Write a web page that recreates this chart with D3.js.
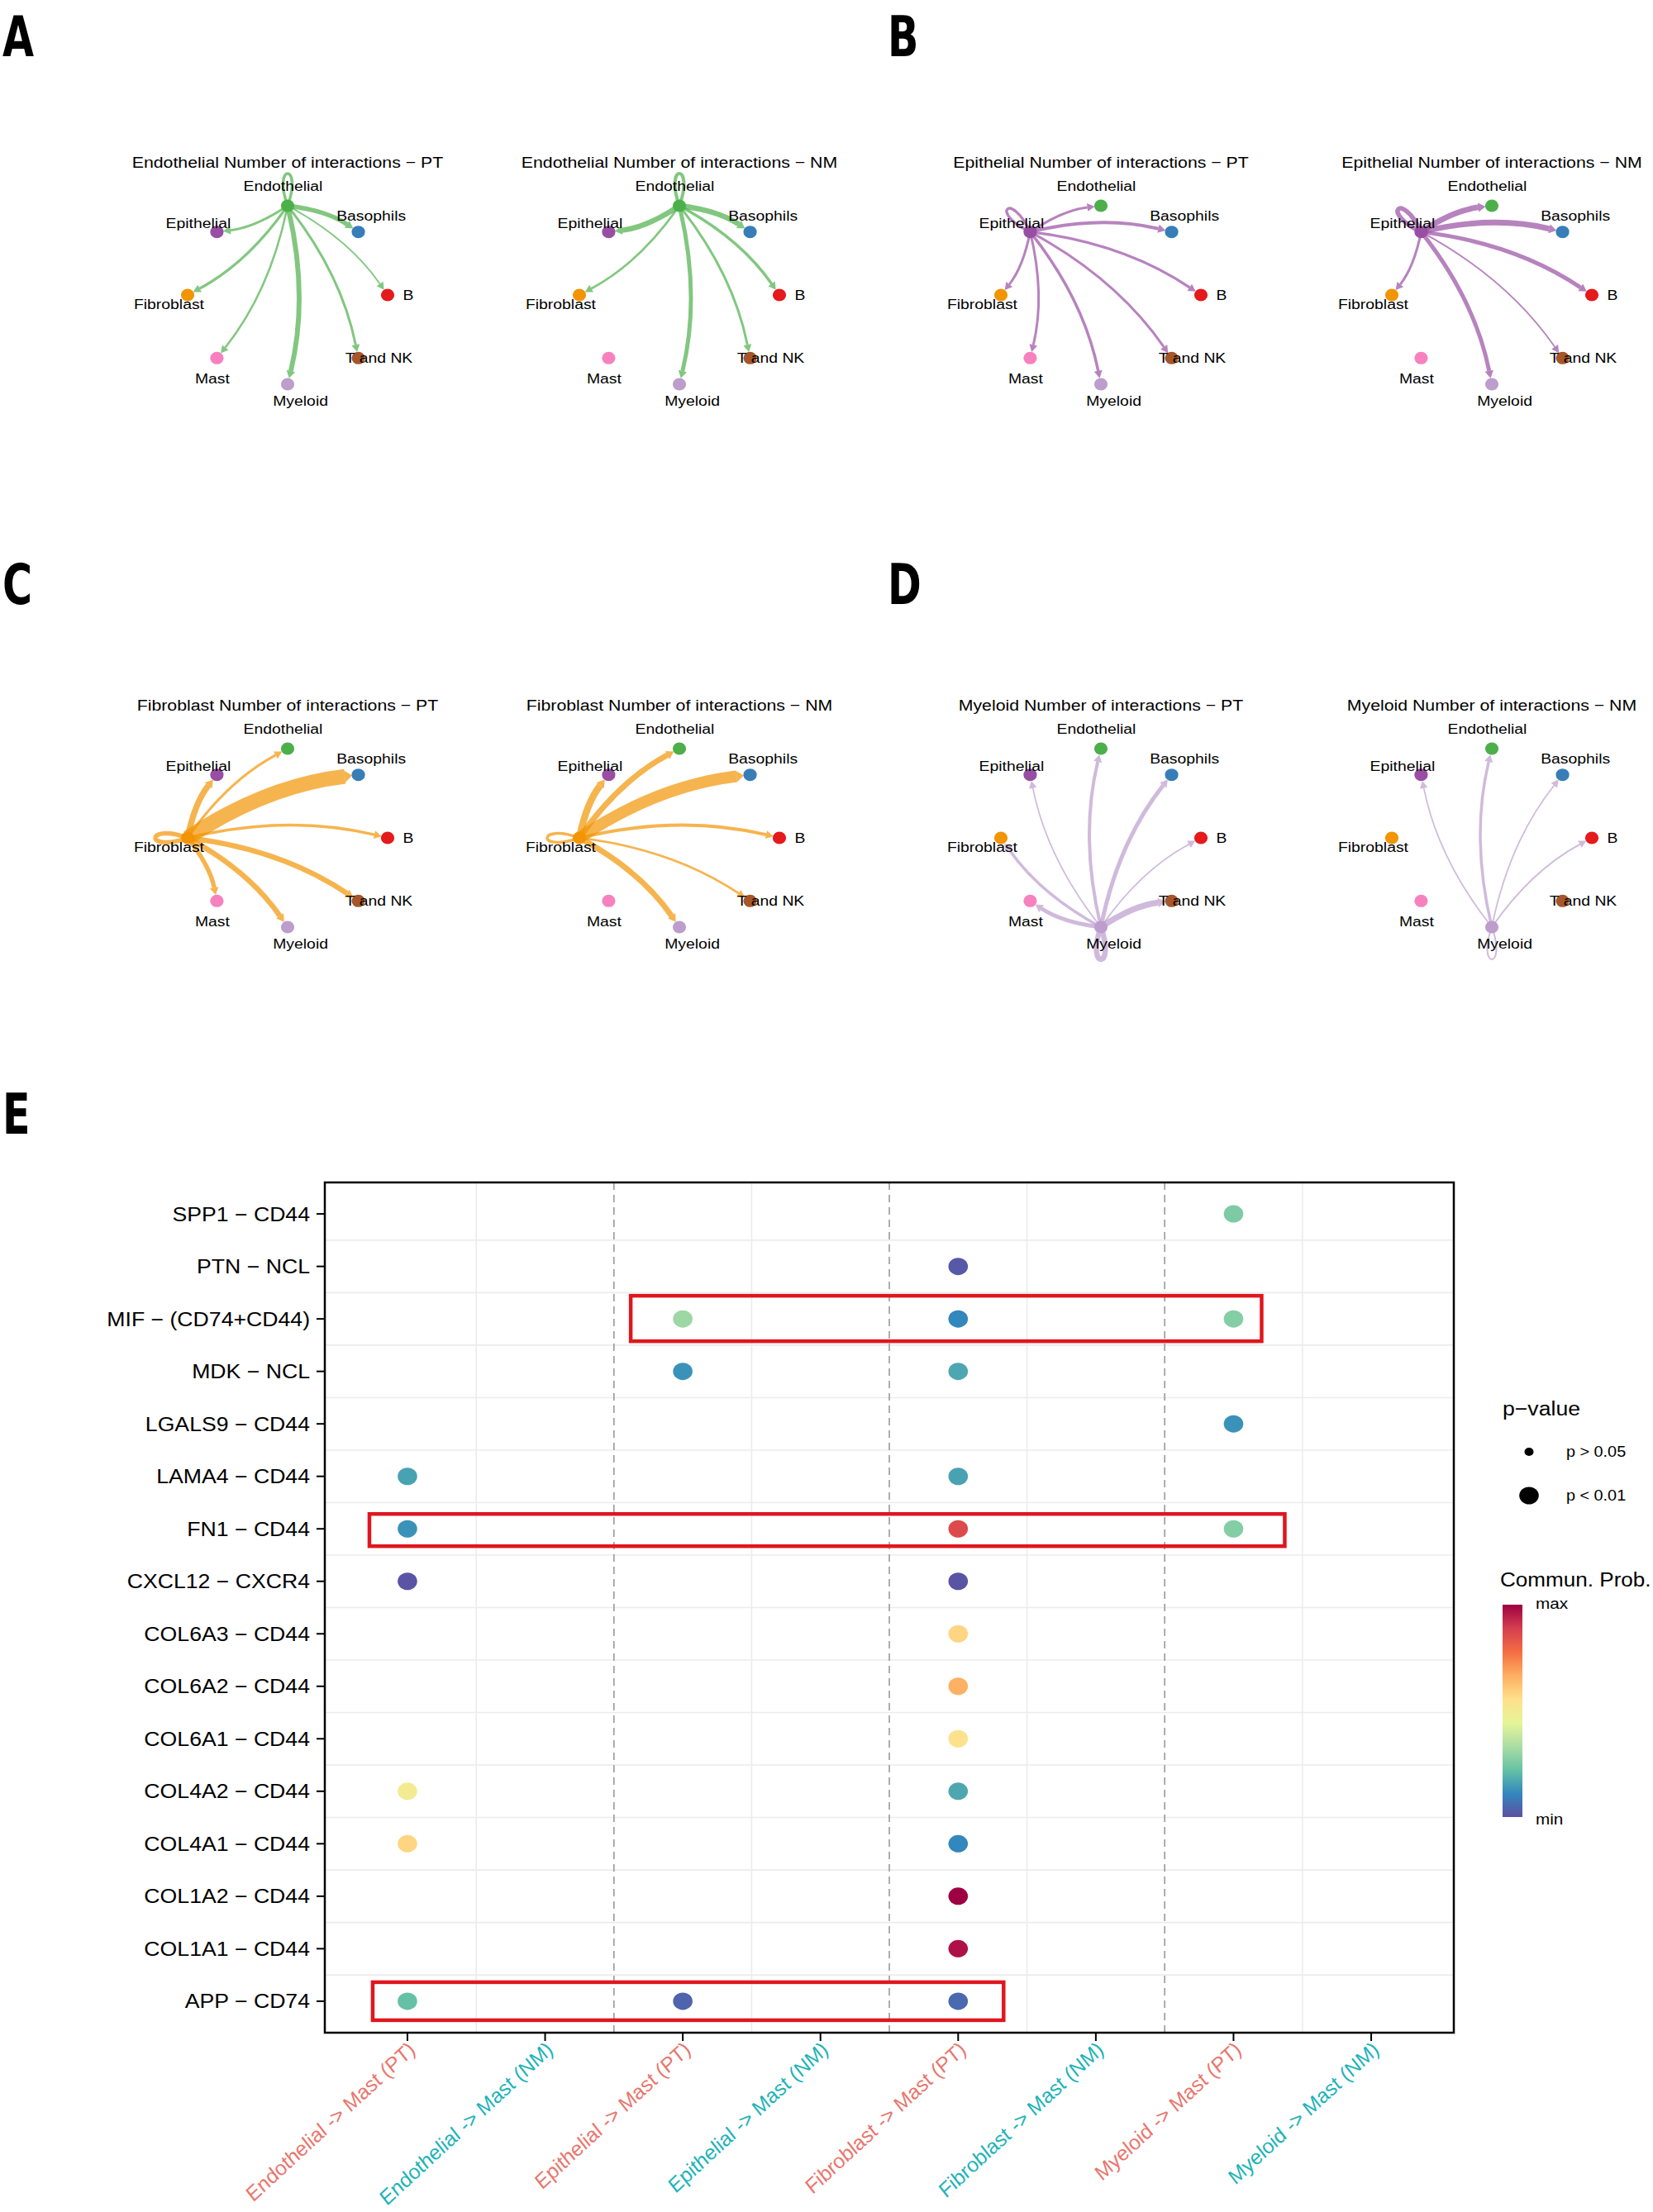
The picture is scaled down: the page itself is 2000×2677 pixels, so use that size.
<!DOCTYPE html>
<html>
<head>
<meta charset="utf-8">
<script src="https://cdn.jsdelivr.net/npm/d3@7"></script>
<style>
  body { margin: 0; background: #fff; }
  text { font-family: "Liberation Sans", Arial, Helvetica, sans-serif; fill: #000; }
  .letter { font-family: "Liberation Sans Narrow", "DejaVu Sans Condensed", sans-serif; font-weight: bold; }
</style>
</head>
<body>
<div id="fig"></div>
<script>
// ---------- data ----------
var cellTypes = ["B", "Basophils", "Endothelial", "Epithelial", "Fibroblast", "Mast", "Myeloid", "T and NK"];
var cellColors = ["#E41A1C", "#377EB8", "#4DAF4A", "#984EA3", "#F29403", "#F781BF", "#BC9DCC", "#A65628"];

// number of interactions sent by one source to each cell type (order of cellTypes)
var endoPT = [1.3, 5, 3, 2.5, 2.7, 2, 5.5, 2.5];
var endoNM = [3, 6, 3.5, 6, 2.2, 0, 4.5, 2.5];
var epiPT  = [2.8, 3.5, 2.5, 2.8, 2.5, 2.5, 3, 2.5];
var epiNM  = [4.5, 6.5, 6.5, 5, 2.5, 0, 4.5, 1.2];
var fibPT  = [3, 18, 2.5, 7, 5, 5, 6, 6];
var fibNM  = [3.5, 14, 6.5, 8, 3, 0, 6.5, 2.2];
var myePT  = [1.2, 4.5, 3.5, 1.2, 3, 4.5, 6, 7];
var myeNM  = [1.3, 1.2, 3, 1.2, 0, 0, 1.5, 0];

var lrPairs = ["SPP1 − CD44", "PTN − NCL", "MIF − (CD74+CD44)", "MDK − NCL", "LGALS9 − CD44",
  "LAMA4 − CD44", "FN1 − CD44", "CXCL12 − CXCR4", "COL6A3 − CD44", "COL6A2 − CD44",
  "COL6A1 − CD44", "COL4A2 − CD44", "COL4A1 − CD44", "COL1A2 − CD44", "COL1A1 − CD44", "APP − CD74"];
var sourceTarget = ["Endothelial -> Mast (PT)", "Endothelial -> Mast (NM)", "Epithelial -> Mast (PT)",
  "Epithelial -> Mast (NM)", "Fibroblast -> Mast (PT)", "Fibroblast -> Mast (NM)",
  "Myeloid -> Mast (PT)", "Myeloid -> Mast (NM)"];
// [pair index, source-target index, scaled commun. prob (0 = min, 1 = max)]; all p < 0.01
var bubbles = [
  [0, 6, 0.26],
  [1, 4, 0.02],
  [2, 2, 0.31], [2, 4, 0.11], [2, 6, 0.27],
  [3, 2, 0.13], [3, 4, 0.17],
  [4, 6, 0.13],
  [5, 0, 0.16], [5, 4, 0.16],
  [6, 0, 0.13], [6, 4, 0.86], [6, 6, 0.27],
  [7, 0, 0.01], [7, 4, 0.01],
  [8, 4, 0.58],
  [9, 4, 0.66],
  [10, 4, 0.55],
  [11, 0, 0.50], [11, 4, 0.17],
  [12, 0, 0.58], [12, 4, 0.11],
  [13, 4, 1.0],
  [14, 4, 0.97],
  [15, 0, 0.22], [15, 2, 0.04], [15, 4, 0.05]
];
// highlighted rows: [pair index, first column, last column]
var highlights = [[2, 2, 6], [6, 0, 6], [15, 0, 4]];
var spectral = ["#9E0142", "#D53E4F", "#F46D43", "#FDAE61", "#FEE08B", "#E6F598", "#ABDDA4", "#66C2A5", "#3288BD", "#5E4FA2"];

// ---------- setup ----------
var W = 2000, H = 2677, STRETCH = 1.12;
var svg = d3.select("#fig").append("svg").attr("width", W).attr("height", H);

function addText(g, x, y, str, size, anchor) {
  return g.append("text")
    .attr("transform", "translate(" + x + "," + y + ") scale(" + STRETCH + ",1)")
    .attr("text-anchor", anchor || "middle")
    .attr("dominant-baseline", "central")
    .style("font-size", size + "px")
    .text(str);
}

// panel letters
[["A", 3, 68], ["B", 1074, 68], ["C", 3, 731], ["D", 1074, 731], ["E", 3, 1372]].forEach(function (l) {
  svg.append("text").attr("class", "letter")
    .attr("transform", "translate(" + l[1] + "," + l[2] + ") scale(0.88,1.1)")
    .style("font-size", "62px").text(l[0]);
});

// ---------- circle plots ----------
var RX = 121, RY = 108, NODE_R = 7.5, CURVE = 0.12, LABEL_DIST = 25;
var widthScale = d3.scaleLinear().domain([0, 18]).range([0.6, 18]);

function drawNetwork(cx, cy, title, src, counts) {
  var g = svg.append("g");
  var nodes = cellTypes.map(function (name, i) {
    var a = i * Math.PI / 4;
    return {name: name, x: cx + RX * Math.cos(a), y: cy - RY * Math.sin(a), a: a};
  });
  addText(g, cx, cy - 161, title, 19);

  var s = nodes[src], col = cellColors[src];
  var eg = g.append("g");
  counts.forEach(function (c, j) {
    if (!c) return;
    var w = widthScale(c);
    if (j === src) {
      var ox = Math.cos(s.a), oy = -Math.sin(s.a), px = -oy, py = ox;
      var L = 52, Wd = 19;
      eg.append("path")
        .attr("d", "M" + s.x + "," + s.y +
          "C" + (s.x + ox * L + px * Wd) + "," + (s.y + oy * L + py * Wd) + " " +
          (s.x + ox * L - px * Wd) + "," + (s.y + oy * L - py * Wd) + " " + s.x + "," + s.y)
        .attr("fill", "none").attr("stroke", col).attr("stroke-opacity", 0.7)
        .attr("stroke-width", w);
      return;
    }
    var t = nodes[j];
    var dx = t.x - s.x, dy = t.y - s.y;
    var qx = (s.x + t.x) / 2 + CURVE * dy, qy = (s.y + t.y) / 2 - CURVE * dx;
    var ux = t.x - qx, uy = t.y - qy, ul = Math.hypot(ux, uy);
    ux /= ul; uy /= ul;
    var tipX = t.x - ux * NODE_R, tipY = t.y - uy * NODE_R;
    var al = 9, hw = 4.5 + w * 0.15;
    var bx = tipX - ux * al, by = tipY - uy * al;
    eg.append("path")
      .attr("d", "M" + s.x + "," + s.y + "Q" + qx + "," + qy + " " + bx + "," + by)
      .attr("fill", "none").attr("stroke", col).attr("stroke-opacity", 0.7)
      .attr("stroke-width", w);
    eg.append("path")
      .attr("d", "M" + tipX + "," + tipY + "L" + (bx - uy * hw) + "," + (by + ux * hw) +
        "L" + (bx + uy * hw) + "," + (by - ux * hw) + "Z")
      .attr("fill", col).attr("fill-opacity", 0.7);
  });

  g.selectAll("ellipse.node").data(nodes).enter().append("ellipse")
    .attr("class", "node")
    .attr("cx", function (d) { return d.x; })
    .attr("cy", function (d) { return d.y; })
    .attr("rx", NODE_R * 1.08).attr("ry", NODE_R)
    .attr("fill", function (d, i) { return cellColors[i]; });

  nodes.forEach(function (d, i) {
    var la = i * 2 * Math.PI / 7;   // CellChat label angle
    addText(g, d.x + LABEL_DIST * Math.cos(la), d.y - LABEL_DIST * Math.sin(la), d.name, 17.3);
  });
}

var colX = [348, 822, 1332, 1805], rowY = [357, 1014];
drawNetwork(colX[0], rowY[0], "Endothelial  Number of interactions − PT", 2, endoPT);
drawNetwork(colX[1], rowY[0], "Endothelial  Number of interactions − NM", 2, endoNM);
drawNetwork(colX[2], rowY[0], "Epithelial Number of interactions − PT", 3, epiPT);
drawNetwork(colX[3], rowY[0], "Epithelial Number of interactions − NM", 3, epiNM);
drawNetwork(colX[0], rowY[1], "Fibroblast Number of interactions − PT", 4, fibPT);
drawNetwork(colX[1], rowY[1], "Fibroblast Number of interactions − NM", 4, fibNM);
drawNetwork(colX[2], rowY[1], "Myeloid Number of interactions − PT", 6, myePT);
drawNetwork(colX[3], rowY[1], "Myeloid Number of interactions − NM", 6, myeNM);

// ---------- bubble plot ----------
var P = {left: 393, right: 1759, top: 1431, bottom: 2460};
var x = d3.scalePoint().domain(sourceTarget).range([P.left, P.right]).padding(0.6);
var y = d3.scalePoint().domain(lrPairs).range([P.top, P.bottom]).padding(0.6);
var color = d3.scaleLinear()
  .domain(d3.range(10).map(function (i) { return i / 9; }))
  .range(spectral.slice().reverse())
  .interpolate(d3.interpolateRgb);

var e = svg.append("g");
// grid between rows
lrPairs.slice(1).forEach(function (p, i) {
  var yy = (y(lrPairs[i]) + y(p)) / 2;
  e.append("line").attr("x1", P.left).attr("x2", P.right).attr("y1", yy).attr("y2", yy)
    .attr("stroke", "#ECECEC").attr("stroke-width", 1.6);
});
// vertical separators between columns
sourceTarget.slice(1).forEach(function (c, i) {
  var xx = (x(sourceTarget[i]) + x(c)) / 2;
  var dashed = i % 2 === 1;
  e.append("line").attr("x1", xx).attr("x2", xx).attr("y1", P.top).attr("y2", P.bottom)
    .attr("stroke", dashed ? "#9A9A9A" : "#ECECEC").attr("stroke-width", 1.6)
    .attr("stroke-dasharray", dashed ? "9,6" : null);
});

// bubbles
e.selectAll("ellipse.bubble").data(bubbles).enter().append("ellipse")
  .attr("class", "bubble")
  .attr("cx", function (d) { return x(sourceTarget[d[1]]); })
  .attr("cy", function (d) { return y(lrPairs[d[0]]); })
  .attr("rx", 11.8).attr("ry", 10.5)
  .attr("fill", function (d) { return color(d[2]); });

// highlight boxes
var padL = [63, 46, 42], padR = [34, 62, 55], padT = [28, 18, 23], padB = [27, 21, 23];
highlights.forEach(function (h, i) {
  var yy = y(lrPairs[h[0]]);
  var x0 = x(sourceTarget[h[1]]) - padL[i], x1 = x(sourceTarget[h[2]]) + padR[i];
  e.append("rect").attr("x", x0).attr("y", yy - padT[i])
    .attr("width", x1 - x0).attr("height", padT[i] + padB[i])
    .attr("fill", "none").attr("stroke", "#E0161E").attr("stroke-width", 4.5);
});

// panel border
e.append("rect").attr("x", P.left).attr("y", P.top)
  .attr("width", P.right - P.left).attr("height", P.bottom - P.top)
  .attr("fill", "none").attr("stroke", "#000").attr("stroke-width", 2.5);

// y axis
lrPairs.forEach(function (p) {
  e.append("line").attr("x1", P.left - 10).attr("x2", P.left).attr("y1", y(p)).attr("y2", y(p))
    .attr("stroke", "#000").attr("stroke-width", 2);
  addText(e, P.left - 18, y(p), p, 23.8, "end");
});
// x axis
sourceTarget.forEach(function (c) {
  e.append("line").attr("x1", x(c)).attr("x2", x(c)).attr("y1", P.bottom).attr("y2", P.bottom + 10)
    .attr("stroke", "#000").attr("stroke-width", 2);
  e.append("text")
    .attr("transform", "translate(" + (x(c) - 2) + "," + (P.bottom + 10) + ") scale(" + STRETCH + ",1) rotate(-46)")
    .attr("text-anchor", "end")
    .attr("dominant-baseline", "hanging")
    .style("font-size", "23.5px").style("font-style", "italic")
    .style("fill", /\(PT\)/.test(c) ? "#E8766D" : "#1DB3B8")
    .text(c);
});

// legend: p-value
addText(e, 1818, 1705, "p−value", 23.8, "start");
e.append("ellipse").attr("cx", 1850).attr("cy", 1757).attr("rx", 5.5).attr("ry", 5).attr("fill", "#000");
addText(e, 1895, 1757, "p > 0.05", 17.7, "start");
e.append("ellipse").attr("cx", 1850).attr("cy", 1810).attr("rx", 11.8).attr("ry", 10.5).attr("fill", "#000");
addText(e, 1895, 1810, "p < 0.01", 17.7, "start");

// legend: colour bar
addText(e, 1815, 1912, "Commun. Prob.", 23.3, "start");
var grad = svg.append("defs").append("linearGradient").attr("id", "cbar")
  .attr("x1", 0).attr("y1", 1).attr("x2", 0).attr("y2", 0);
d3.range(10).forEach(function (i) {
  grad.append("stop").attr("offset", i / 9).attr("stop-color", color(i / 9));
});
e.append("rect").attr("x", 1818).attr("y", 1942).attr("width", 24).attr("height", 257)
  .attr("fill", "url(#cbar)");
addText(e, 1858, 1940, "max", 18.5, "start");
addText(e, 1858, 2201, "min", 18.5, "start");
</script>
</body>
</html>
